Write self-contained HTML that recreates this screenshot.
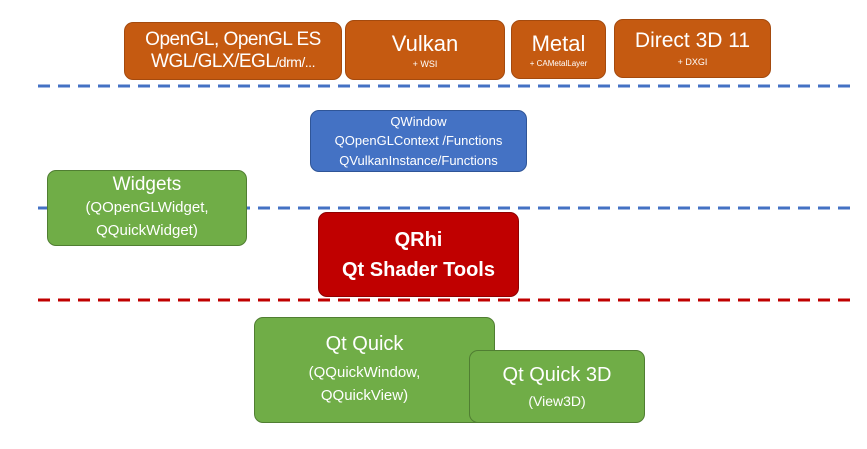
<!DOCTYPE html>
<html><head><style>
body{margin:0;width:867px;height:449px;background:#fff;position:relative;overflow:hidden;font-family:"Liberation Sans",sans-serif;color:#fff}
.b{position:absolute;box-sizing:border-box;border-radius:9px;text-align:center;display:flex;flex-direction:column;justify-content:center;align-items:center;line-height:1.15}
.o{background:#c55a11;border:1px solid #a44a0e}
.g{background:#70ad47;border:1px solid #507e32}
</style></head><body>
<svg style="position:absolute;left:0;top:0" width="867" height="449">
<line x1="38" y1="86" x2="852" y2="86" stroke="#4472c4" stroke-width="3" stroke-dasharray="12,8"/>
<line x1="38" y1="208" x2="852" y2="208" stroke="#4472c4" stroke-width="3" stroke-dasharray="12,8"/>
<line x1="38" y1="300" x2="852" y2="300" stroke="#c00000" stroke-width="3" stroke-dasharray="12,8"/>
</svg>

<div class="b o" style="left:124px;top:22px;width:218px;height:58px;font-size:19px;letter-spacing:-0.5px">OpenGL, OpenGL ES<div>WGL/GLX/EGL<span style="font-size:14px">/drm/...</span></div></div>
<div class="b o" style="left:345px;top:20px;width:160px;height:60px;font-size:22px">Vulkan<span style="font-size:9px;margin-top:3px">+ WSI</span></div>
<div class="b o" style="left:511px;top:20px;width:95px;height:59px;font-size:22px">Metal<span style="font-size:8px;margin-top:3px">+ CAMetalLayer</span></div>
<div class="b o" style="left:614px;top:19px;width:157px;height:59px;font-size:21px">Direct 3D 11<span style="font-size:9px;margin-top:4px">+ DXGI</span></div>

<div class="b" style="left:310px;top:110px;width:217px;height:62px;background:#4472c4;border:1px solid #2f5597;font-size:13px;line-height:1.5">QWindow<br>QOpenGLContext /Functions<br>QVulkanInstance/Functions</div>

<div class="b g" style="left:47px;top:170px;width:200px;height:76px;font-size:19px">Widgets<span style="font-size:15px;line-height:1.5;margin-top:2px">(QOpenGLWidget,<br>QQuickWidget)</span></div>

<div class="b" style="left:318px;top:212px;width:201px;height:85px;background:#c00000;border:1px solid #8f0000;font-size:20px;font-weight:bold;line-height:1.5">QRhi<br>Qt Shader Tools</div>

<div class="b g" style="left:254px;top:317px;width:241px;height:106px;font-size:20px;padding-right:20px">Qt Quick<span style="font-size:15px;line-height:1.5;margin-top:6px">(QQuickWindow,<br>QQuickView)</span></div>
<div class="b g" style="left:469px;top:350px;width:176px;height:73px;font-size:20px">Qt Quick 3D<span style="font-size:14px;margin-top:6px">(View3D)</span></div>
</body></html>
